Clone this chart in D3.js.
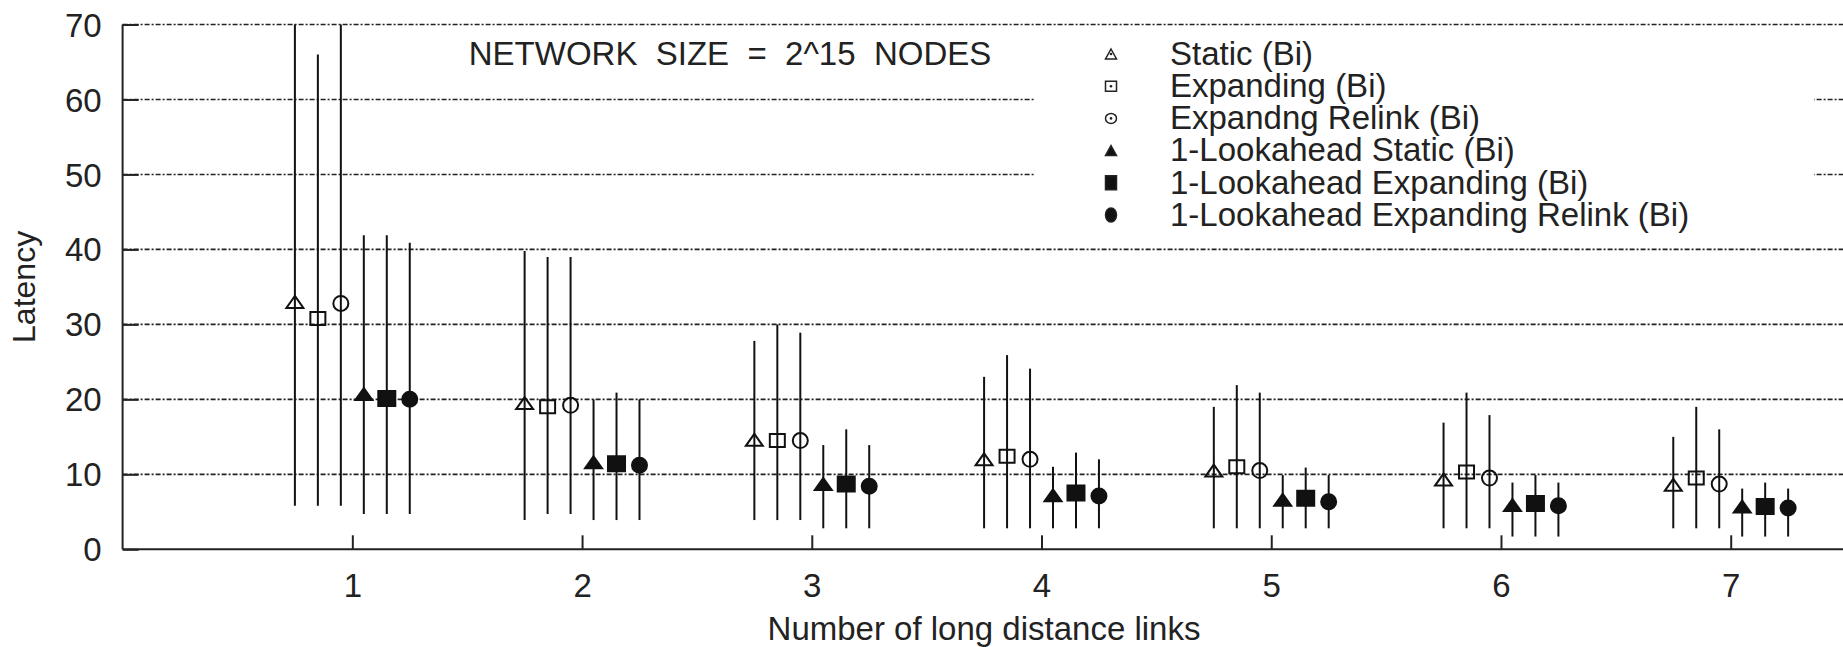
<!DOCTYPE html>
<html>
<head>
<meta charset="utf-8">
<script src="https://cdn.jsdelivr.net/npm/d3@7"></script>
<style>
    body { margin: 0; background: #fff; }
    #chart-area text { font-family: "Liberation Sans", Arial, sans-serif; fill: #222; }
</style>
</head>
<body>
<div id="chart-area"></div>
<script>
// x categories (number of long distance links)
const linkCounts = [1, 2, 3, 4, 5, 6, 7];
const yTicks = [0, 10, 20, 30, 40, 50, 60, 70];

const seriesNames = [
    "Static (Bi)",
    "Expanding (Bi)",
    "Expandng Relink (Bi)",
    "1-Lookahead Static (Bi)",
    "1-Lookahead Expanding (Bi)",
    "1-Lookahead Expanding Relink (Bi)"
];
const seriesOffsets = [-0.25, -0.15, -0.05, 0.05, 0.15, 0.25];
const seriesShapes = ["triangle", "square", "circle", "triangle", "square", "circle"];
const seriesFilled = [false, false, false, true, true, true];

// mean latency with low / high of the error bar, per series
const staticMean = [33.0, 19.5, 14.6, 12.0, 10.5, 9.3, 8.6];
const staticLow = [5.8, 3.9, 3.9, 2.8, 2.8, 2.8, 2.8];
const staticHigh = [70, 39.8, 27.8, 23.0, 19.0, 16.9, 15.0];

const expandingMean = [30.8, 19.0, 14.5, 12.4, 11.0, 10.3, 9.5];
const expandingLow = [5.8, 4.7, 3.9, 2.8, 2.8, 2.8, 2.8];
const expandingHigh = [66.0, 39.0, 30.0, 25.9, 21.9, 20.9, 19.0];

const relinkMean = [32.8, 19.2, 14.5, 12.0, 10.5, 9.5, 8.7];
const relinkLow = [5.8, 4.7, 3.9, 2.8, 2.8, 2.8, 2.8];
const relinkHigh = [70, 39.0, 28.9, 24.1, 20.9, 17.9, 16.0];

const laStaticMean = [20.7, 11.6, 8.7, 7.2, 6.6, 5.9, 5.7];
const laStaticLow = [4.7, 3.9, 2.8, 2.8, 2.8, 1.7, 1.7];
const laStaticHigh = [41.9, 20.0, 13.9, 11.0, 9.9, 8.9, 8.1];

const laExpandingMean = [20.1, 11.4, 8.7, 7.5, 6.8, 6.1, 5.7];
const laExpandingLow = [4.7, 3.9, 2.8, 2.8, 2.8, 1.7, 1.7];
const laExpandingHigh = [41.9, 20.9, 16.0, 12.9, 10.9, 9.9, 8.9];

const laRelinkMean = [20.0, 11.2, 8.4, 7.1, 6.35, 5.8, 5.5];
const laRelinkLow = [4.7, 3.9, 2.8, 2.8, 2.8, 1.7, 1.7];
const laRelinkHigh = [40.9, 20.0, 13.9, 12.0, 9.9, 8.9, 8.1];

const seriesMeans = [staticMean, expandingMean, relinkMean, laStaticMean, laExpandingMean, laRelinkMean];
const seriesLows = [staticLow, expandingLow, relinkLow, laStaticLow, laExpandingLow, laRelinkLow];
const seriesHighs = [staticHigh, expandingHigh, relinkHigh, laStaticHigh, laExpandingHigh, laRelinkHigh];


class LatencyChart {
    constructor(parentElement) {
        this.parentElement = parentElement;
        this.initVis();
    }

    initVis() {
        let vis = this;

        vis.totalWidth = 1843;
        vis.totalHeight = 647;
        vis.margin = {top: 24.5, left: 122.6, bottom: 97.7};
        vis.height = vis.totalHeight - vis.margin.top - vis.margin.bottom;
        vis.unit = 229.73; // px per link count

        vis.svg = d3.select("#" + vis.parentElement).append("svg")
            .attr("width", vis.totalWidth)
            .attr("height", vis.totalHeight);

        vis.x = d3.scaleLinear()
            .domain([0, 8])
            .range([vis.margin.left, vis.margin.left + 8 * vis.unit]);

        vis.y = d3.scaleLinear()
            .domain([0, 70])
            .range([vis.margin.top + vis.height, vis.margin.top]);

        vis.wrangleData();
    }

    wrangleData() {
        let vis = this;
        vis.points = [];
        seriesNames.forEach((name, s) => {
            linkCounts.forEach((k, i) => {
                vis.points.push({
                    series: s,
                    x: k + seriesOffsets[s],
                    mean: seriesMeans[s][i],
                    low: seriesLows[s][i],
                    high: seriesHighs[s][i]
                });
            });
        });
        vis.updateVis();
    }

    shapePath(shape, w, h) {
        if (shape === "triangle") {
            return `M0,${-h / 2}L${w / 2},${h / 2}L${-w / 2},${h / 2}Z`;
        }
        if (shape === "square") {
            return `M${-w / 2},${-h / 2}H${w / 2}V${h / 2}H${-w / 2}Z`;
        }
        // ellipse as two arcs
        return `M${-w / 2},0A${w / 2},${h / 2} 0 1,0 ${w / 2},0A${w / 2},${h / 2} 0 1,0 ${-w / 2},0Z`;
    }

    updateVis() {
        let vis = this;
        let x0 = vis.x(0);
        let y0 = vis.y(0);

        // dashed grid
        vis.svg.append("g").attr("class", "grid")
            .selectAll("line")
            .data(yTicks.filter(d => d > 0))
            .enter().append("line")
            .attr("x1", x0)
            .attr("x2", vis.totalWidth)
            .attr("y1", d => vis.y(d))
            .attr("y2", d => vis.y(d))
            .attr("stroke", "#222")
            .attr("stroke-width", 1.6)
            .attr("stroke-dasharray", "5,2,2,2");

        // legend box hides the grid behind it
        vis.svg.append("rect")
            .attr("x", 1034).attr("y", 34)
            .attr("width", 780).attr("height", 200)
            .attr("fill", "#fff");

        // title
        vis.svg.append("text")
            .attr("x", 730)
            .attr("y", 65)
            .attr("text-anchor", "middle")
            .style("font-size", "33px")
            .style("white-space", "pre")
            .text("NETWORK  SIZE  =  2^15  NODES");

        // axes
        let yAxis = d3.axisLeft(vis.y)
            .tickValues(yTicks)
            .tickSize(-16)
            .tickPadding(21);
        let yG = vis.svg.append("g")
            .attr("transform", `translate(${x0},0)`)
            .call(yAxis);

        let xAxis = d3.axisBottom(vis.x)
            .tickValues(linkCounts)
            .tickSize(-14)
            .tickPadding(24);
        let xG = vis.svg.append("g")
            .attr("transform", `translate(0,${y0})`)
            .call(xAxis);

        [yG, xG].forEach(g => {
            g.select(".domain").remove();
            g.selectAll(".tick line").attr("stroke", "#222").attr("stroke-width", 2);
            g.selectAll(".tick text")
                .style("font-size", "33px")
                .style("font-family", "Liberation Sans, Arial, sans-serif")
                .attr("fill", "#222");
        });
        yG.selectAll(".tick text").attr("dy", "0.35em");

        // axis lines
        vis.svg.append("line")
            .attr("x1", x0).attr("x2", x0)
            .attr("y1", vis.y(70)).attr("y2", y0)
            .attr("stroke", "#222").attr("stroke-width", 2);
        vis.svg.append("line")
            .attr("x1", x0).attr("x2", vis.totalWidth)
            .attr("y1", y0).attr("y2", y0)
            .attr("stroke", "#222").attr("stroke-width", 2);

        // axis titles
        vis.svg.append("text")
            .attr("transform", `translate(35,${vis.y(35)}) rotate(-90)`)
            .attr("text-anchor", "middle")
            .style("font-size", "32px")
            .text("Latency");

        vis.svg.append("text")
            .attr("x", 984)
            .attr("y", 640)
            .attr("text-anchor", "middle")
            .style("font-size", "33px")
            .text("Number of long distance links");

        // legend
        let legend = vis.svg.append("g").attr("class", "legend");
        let rows = legend.selectAll(".row")
            .data(seriesNames)
            .enter().append("g")
            .attr("class", "row")
            .attr("transform", (d, i) => `translate(1111,${54 + i * 32.2})`);

        rows.append("path")
            .attr("d", (d, i) => seriesFilled[i]
                ? vis.shapePath(seriesShapes[i], 11, seriesShapes[i] === "triangle" ? 10 : 14)
                : vis.shapePath(seriesShapes[i], 11, 10))
            .attr("fill", (d, i) => seriesFilled[i] ? "#111" : "none")
            .attr("stroke", "#222")
            .attr("stroke-width", 1.5);
        rows.filter((d, i) => !seriesFilled[i])
            .append("circle")
            .attr("r", 1.3)
            .attr("fill", "#222");

        rows.append("text")
            .attr("x", 59)
            .attr("dy", "0.33em")
            .style("font-size", "33px")
            .text(d => d);

        // error bars
        let marks = vis.svg.append("g").attr("class", "marks");
        marks.selectAll(".errbar")
            .data(vis.points)
            .enter().append("line")
            .attr("class", "errbar")
            .attr("x1", d => vis.x(d.x))
            .attr("x2", d => vis.x(d.x))
            .attr("y1", d => vis.y(d.low))
            .attr("y2", d => vis.y(d.high))
            .attr("stroke", "#111")
            .attr("stroke-width", 2);

        // point symbols
        marks.selectAll(".pt")
            .data(vis.points)
            .enter().append("path")
            .attr("class", "pt")
            .attr("transform", d => `translate(${vis.x(d.x)},${vis.y(d.mean)})`)
            .attr("d", d => {
                let shape = seriesShapes[d.series];
                if (shape === "triangle") return vis.shapePath(shape, 17, 12);
                if (shape === "square") return seriesFilled[d.series] ? vis.shapePath(shape, 17, 15) : vis.shapePath(shape, 15, 13);
                return vis.shapePath(shape, 15, 15);
            })
            .attr("fill", d => seriesFilled[d.series] ? "#111" : "none")
            .attr("stroke", "#111")
            .attr("stroke-width", 2);
    }
}

new LatencyChart("chart-area");
</script>
</body>
</html>
